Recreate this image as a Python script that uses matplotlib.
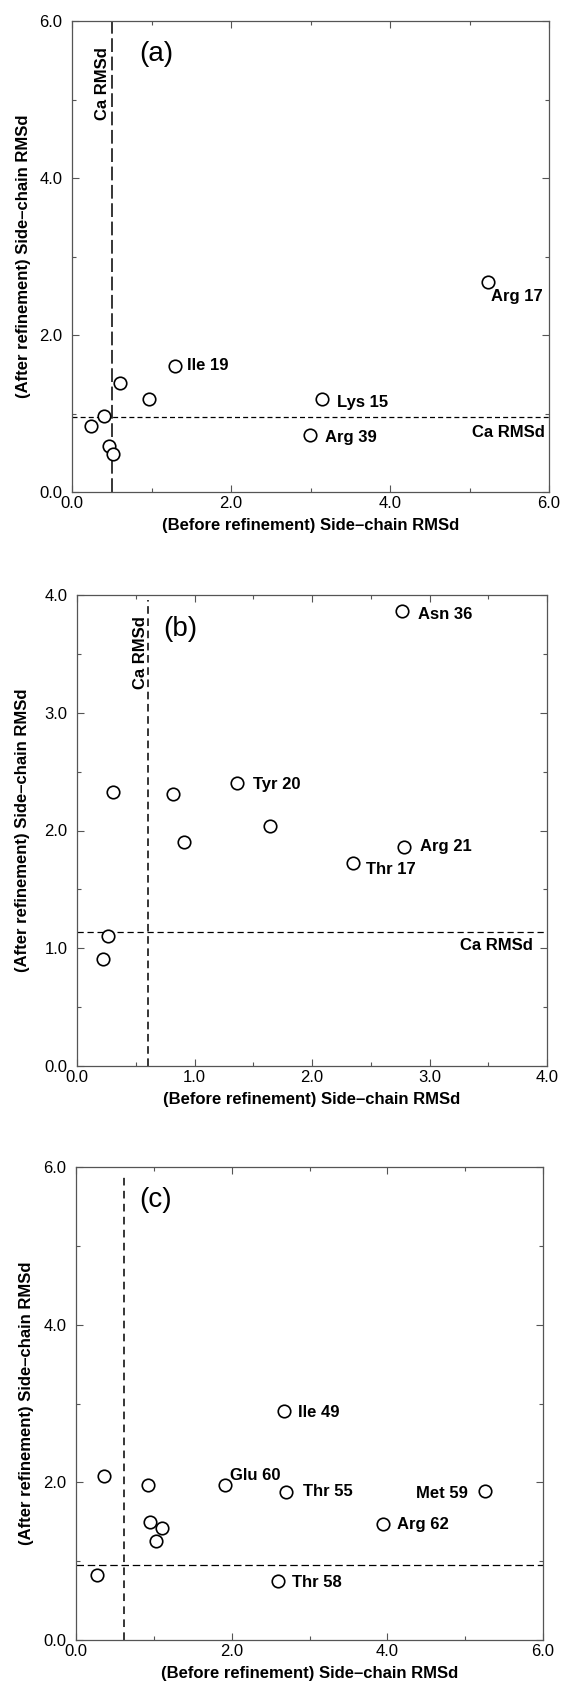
import matplotlib
matplotlib.use('Agg')
import matplotlib.pyplot as plt
from matplotlib.ticker import MultipleLocator, FormatStrFormatter

plt.rcParams['font.family'] = ['Liberation Sans', 'DejaVu Sans']

# ---- data ----
# panel (a)
a_before = [5.23, 1.29, 0.61, 0.97, 3.14, 0.40, 0.24, 2.99, 0.46, 0.51]
a_after = [2.68, 1.61, 1.39, 1.18, 1.18, 0.97, 0.84, 0.73, 0.58, 0.48]
a_names = ['Arg 17', 'Ile 19', '', '', 'Lys 15', '', '', 'Arg 39', '', '']
a_ca_before = 0.50
a_ca_after = 0.95

# panel (b)
b_before = [2.77, 1.36, 0.31, 0.82, 1.64, 0.91, 2.78, 2.35, 0.26, 0.22]
b_after = [3.86, 2.40, 2.33, 2.31, 2.04, 1.90, 1.86, 1.72, 1.10, 0.91]
b_names = ['Asn 36', 'Tyr 20', '', '', '', '', 'Arg 21', 'Thr 17', '', '']
b_ca_before = 0.60
b_ca_after = 1.14

# panel (c)
c_before = [2.67, 0.36, 0.92, 1.91, 2.70, 5.25, 0.95, 1.10, 3.94, 1.03, 0.27, 2.60]
c_after = [2.90, 2.08, 1.96, 1.96, 1.88, 1.89, 1.50, 1.42, 1.47, 1.26, 0.83, 0.75]
c_names = ['Ile 49', '', '', 'Glu 60', 'Thr 55', 'Met 59', '', '', 'Arg 62', '', '', 'Thr 58']
c_ca_before = 0.62
c_ca_after = 0.95

xlabel = '(Before refinement) Side\u2013chain RMSd'
ylabel = '(After refinement) Side\u2013chain RMSd'

# label offsets in points (dx, dy, ha)
offsets = {
    'Arg 17': (2, -11, 'left'), 'Ile 19': (9, 0, 'left'), 'Lys 15': (11, -2, 'left'),
    'Arg 39': (11, -2, 'left'), 'Asn 36': (11, -2, 'left'), 'Tyr 20': (12, -1, 'left'),
    'Arg 21': (12, 0, 'left'), 'Thr 17': (9, -4, 'left'), 'Ile 49': (10, -1, 'left'),
    'Glu 60': (4, 7, 'left'), 'Thr 55': (12, 0, 'left'), 'Met 59': (-12, -1.5, 'right'),
    'Arg 62': (10, 0, 'left'), 'Thr 58': (10, -1, 'left'),
}

fig = plt.figure(figsize=(5.62, 16.84), dpi=100)


def draw_panel(rect, xs, ys, names, ca_x, ca_y, lim, major, minor, tag, tag_pos,
               ylab_x, vdash, hdash, ca_text, vline_top=1.0):
    ax = fig.add_axes(rect)
    ax.set_xlim(0, lim)
    ax.set_ylim(0, lim)

    # reference lines for the C-alpha RMSd
    ax.axvline(ca_x, ymax=vline_top, color='k', lw=1.1, dashes=vdash)
    ax.axhline(ca_y, color='k', lw=0.9, dashes=hdash)

    ax.plot(xs, ys, 'o', markerfacecolor='white', markeredgecolor='k',
            markersize=9, markeredgewidth=1.2, linestyle='none', zorder=3)

    for x, y, n in zip(xs, ys, names):
        if n == '':
            continue
        dx, dy, ha = offsets[n]
        ax.annotate(n, (x, y), xytext=(dx, dy), textcoords='offset points',
                    ha=ha, va='center', fontsize=12, fontweight='bold')

    if ca_text:
        ax.annotate('Ca RMSd', (lim, ca_y), xytext=(ca_text[0], ca_text[1]),
                    textcoords='offset points', ha='right', va='center',
                    fontsize=12, fontweight='bold')
        ax.annotate('Ca RMSd', (ca_x, lim), xytext=(ca_text[2], ca_text[3]),
                    textcoords='offset points', ha='center', va='top',
                    rotation=90, fontsize=12, fontweight='bold')

    ax.text(tag_pos[0], tag_pos[1], tag, transform=ax.transAxes,
            ha='center', va='center', fontsize=20)

    ax.xaxis.set_major_locator(MultipleLocator(major))
    ax.yaxis.set_major_locator(MultipleLocator(major))
    ax.xaxis.set_minor_locator(MultipleLocator(minor))
    ax.yaxis.set_minor_locator(MultipleLocator(minor))
    ax.xaxis.set_major_formatter(FormatStrFormatter('%.1f'))
    ax.yaxis.set_major_formatter(FormatStrFormatter('%.1f'))
    ax.tick_params(which='both', direction='in', top=True, right=True,
                   color='#555555', width=0.8, labelsize=12)
    ax.tick_params(which='major', length=5)
    ax.tick_params(which='minor', length=3)
    ax.tick_params(axis='x', pad=3)
    ax.tick_params(axis='y', pad=7)
    for s in ax.spines.values():
        s.set_color('#555555')
        s.set_linewidth(0.9)

    ax.set_xlabel(xlabel, fontsize=12, fontweight='bold')
    ax.set_ylabel(ylabel, fontsize=12, fontweight='bold')
    ax.xaxis.set_label_coords(0.5, -0.055)
    ax.yaxis.set_label_coords(ylab_x, 0.5)
    return ax


draw_panel([72 / 562, 1 - 492 / 1684, 477 / 562, 471 / 1684],
           a_before, a_after, a_names, a_ca_before, a_ca_after,
           6.0, 2.0, 1.0, '(a)', (0.176, 0.93), -0.087,
           (9, 3), (4, 2.5), (-3, -11, -7, -19))

draw_panel([77 / 562, 1 - 1066 / 1684, 470 / 562, 471 / 1684],
           b_before, b_after, b_names, b_ca_before, b_ca_after,
           4.0, 1.0, 0.5, '(b)', (0.22, 0.928), -0.099,
           (5, 3), (5, 3), (-10, -10, -5, -15), vline_top=0.99)

draw_panel([76 / 562, 1 - 1640 / 1684, 467 / 562, 473 / 1684],
           c_before, c_after, c_names, c_ca_before, c_ca_after,
           6.0, 2.0, 1.0, '(c)', (0.17, 0.93), -0.091,
           (5, 3.5), (6, 3), None, vline_top=0.985)

fig.savefig('out.png', dpi=100)
